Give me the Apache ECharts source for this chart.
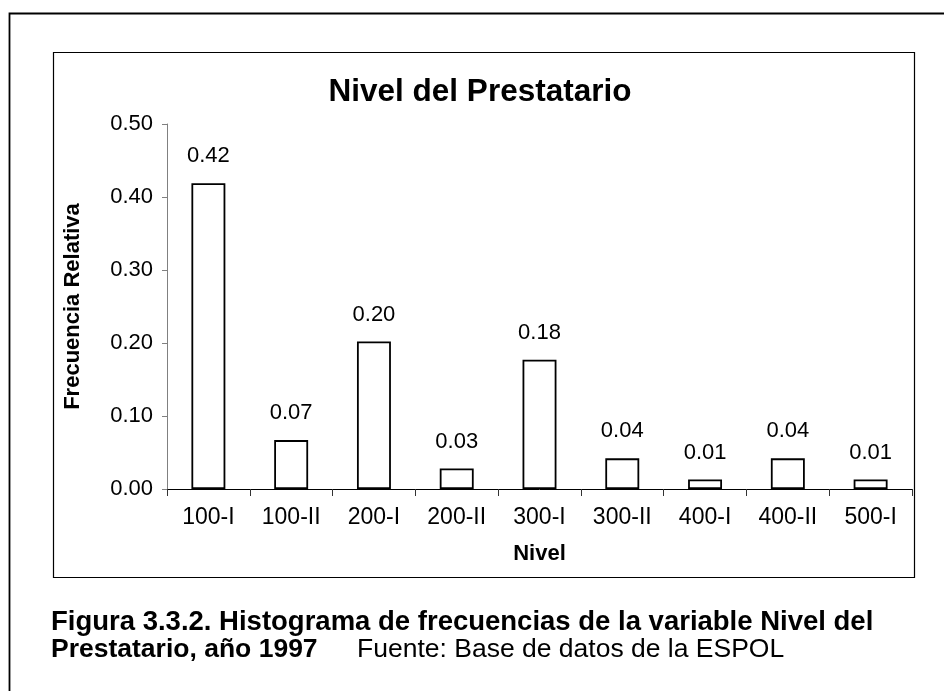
<!DOCTYPE html>
<html>
<head>
<meta charset="utf-8">
<script src="https://cdn.jsdelivr.net/npm/echarts@6/dist/echarts.min.js"></script>
<style>
html,body{margin:0;padding:0;background:#fff;}
#c{width:944px;height:691px;}
</style>
</head>
<body>
<div id="c"></div>
<script>
const categories = ['100-I','100-II','200-I','200-II','300-I','300-II','400-I','400-II','500-I'];
const values = [0.419, 0.067, 0.202, 0.028, 0.177, 0.042, 0.013, 0.042, 0.013];
const yTicks = [0, 0.1, 0.2, 0.3, 0.4, 0.5];
const titleText = 'Nivel del Prestatario';
const yName = 'Frecuencia Relativa';
const xName = 'Nivel';
const caption1 = 'Figura 3.3.2. Histograma de frecuencias de la variable Nivel del';
const caption2 = 'Prestatario, año 1997';
const source = 'Fuente: Base de datos de la ESPOL';

const FF = '"Liberation Sans", Arial, sans-serif';
const chart = echarts.init(document.getElementById('c'));
chart.setOption({
  animation: false,
  backgroundColor: '#fff',
  grid: {left: 167, top: 124, right: 32, bottom: 202},
  xAxis: {
    type: 'category', data: categories,
    axisLine: {lineStyle: {color: '#000', width: 1}},
    axisTick: {show: true, length: 7, lineStyle: {color: '#333'}},
    axisLabel: {fontFamily: FF, fontSize: 23, color: '#000', margin: 17},
    name: xName, nameLocation: 'middle', nameGap: 54,
    nameTextStyle: {fontFamily: FF, fontSize: 22, fontWeight: 'bold', color: '#000'}
  },
  yAxis: {
    type: 'value', min: yTicks[0], max: yTicks[yTicks.length-1], interval: 0.1,
    axisLine: {show: true, lineStyle: {color: '#808080', width: 1}},
    axisTick: {show: true, length: 5, lineStyle: {color: '#808080'}},
    splitLine: {show: false},
    axisLabel: {fontFamily: FF, fontSize: 22, color: '#000', margin: 14,
      formatter: v => v.toFixed(2)},
    name: yName, nameLocation: 'middle', nameGap: 83,
    nameTextStyle: {fontFamily: FF, fontSize: 22, fontWeight: 'bold', color: '#000'}
  },
  series: [{
    type: 'bar', data: values, barWidth: '41%',
    itemStyle: {color: '#fff', borderColor: '#000', borderWidth: 1.8},
    label: {show: true, position: 'top', distance: 16, fontFamily: FF, fontSize: 22, color: '#000',
      formatter: p => p.value.toFixed(2)}
  }],
  graphic: [
    {type: 'rect', silent: true, shape: {x: 9.5, y: 13.5, width: 1000, height: 1000},
     style: {fill: null, stroke: '#000', lineWidth: 1.8}, z: -10},
    {type: 'rect', silent: true, shape: {x: 53.5, y: 52.5, width: 861, height: 525},
     style: {fill: null, stroke: '#000', lineWidth: 1.2}, z: -10},
    {type: 'text', x: 480, y: 92,
     style: {text: titleText, font: 'bold 31.5px ' + FF, fill: '#000', textAlign: 'center', textVerticalAlign: 'middle'}},
    {type: 'text', x: 51, y: 622,
     style: {text: caption1, font: 'bold 27.5px ' + FF, fill: '#000', textVerticalAlign: 'middle'}},
    {type: 'text', x: 51, y: 650,
     style: {text: caption2, font: 'bold 26.5px ' + FF, fill: '#000', textVerticalAlign: 'middle'}},
    {type: 'text', x: 357, y: 650,
     style: {text: source, font: '26.5px ' + FF, fill: '#000', textVerticalAlign: 'middle'}}
  ]
});
</script>
</body>
</html>
